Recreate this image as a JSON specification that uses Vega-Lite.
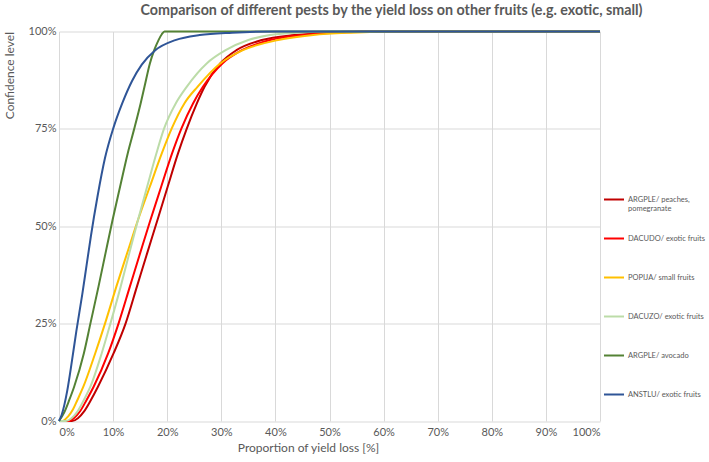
{
  "$schema": "https://vega.github.io/schema/vega-lite/v6.json",
  "autosize": {"type": "none"},
  "width": 541,
  "height": 389.5,
  "padding": {"left": 59, "top": 31.5, "right": 109, "bottom": 41},
  "title": {
    "text": "Comparison of different pests by the yield loss on other fruits (e.g. exotic, small)",
    "font": "Lato",
    "fontSize": 14.3,
    "fontWeight": "bold",
    "color": "#595959",
    "anchor": "middle",
    "frame": "group",
    "dx": 62,
    "offset": 7.5
  },
  "config": {
    "view": {"stroke": null},
    "axis": {
      "grid": true,
      "gridColor": "#d9d9d9",
      "gridWidth": 1,
      "domain": false,
      "ticks": false,
      "labelFont": "Lato",
      "labelFontSize": 11,
      "labelColor": "#595959",
      "titleFont": "Lato",
      "titleFontSize": 12,
      "titleFontWeight": "normal",
      "titleColor": "#595959"
    }
  },
  "data": {
    "values": [
      {"series": "ARGPLE/ peaches, pomegranate", "x": 0, "y": 0},
      {"series": "ARGPLE/ peaches, pomegranate", "x": 2.4, "y": 0},
      {"series": "ARGPLE/ peaches, pomegranate", "x": 3.5, "y": 0.7},
      {"series": "ARGPLE/ peaches, pomegranate", "x": 4.6, "y": 2.4},
      {"series": "ARGPLE/ peaches, pomegranate", "x": 5.9, "y": 5.4},
      {"series": "ARGPLE/ peaches, pomegranate", "x": 7.2, "y": 8.8},
      {"series": "ARGPLE/ peaches, pomegranate", "x": 10.1, "y": 17.4},
      {"series": "ARGPLE/ peaches, pomegranate", "x": 12.3, "y": 25},
      {"series": "ARGPLE/ peaches, pomegranate", "x": 14.4, "y": 34.5},
      {"series": "ARGPLE/ peaches, pomegranate", "x": 16.3, "y": 43.1},
      {"series": "ARGPLE/ peaches, pomegranate", "x": 18.2, "y": 51.6},
      {"series": "ARGPLE/ peaches, pomegranate", "x": 20.1, "y": 60.2},
      {"series": "ARGPLE/ peaches, pomegranate", "x": 22, "y": 68.7},
      {"series": "ARGPLE/ peaches, pomegranate", "x": 23.6, "y": 75},
      {"series": "ARGPLE/ peaches, pomegranate", "x": 25.5, "y": 81.6},
      {"series": "ARGPLE/ peaches, pomegranate", "x": 26.9, "y": 85.8},
      {"series": "ARGPLE/ peaches, pomegranate", "x": 29.8, "y": 91.8},
      {"series": "ARGPLE/ peaches, pomegranate", "x": 32.8, "y": 95.2},
      {"series": "ARGPLE/ peaches, pomegranate", "x": 37.5, "y": 97.8},
      {"series": "ARGPLE/ peaches, pomegranate", "x": 43.5, "y": 99.1},
      {"series": "ARGPLE/ peaches, pomegranate", "x": 49, "y": 99.7},
      {"series": "ARGPLE/ peaches, pomegranate", "x": 56, "y": 100},
      {"series": "ARGPLE/ peaches, pomegranate", "x": 100, "y": 100},

      {"series": "DACUDO/ exotic fruits", "x": 0, "y": 0},
      {"series": "DACUDO/ exotic fruits", "x": 1.7, "y": 0},
      {"series": "DACUDO/ exotic fruits", "x": 2.8, "y": 0.8},
      {"series": "DACUDO/ exotic fruits", "x": 3.9, "y": 2.5},
      {"series": "DACUDO/ exotic fruits", "x": 5.1, "y": 5.4},
      {"series": "DACUDO/ exotic fruits", "x": 6.4, "y": 8.8},
      {"series": "DACUDO/ exotic fruits", "x": 9.1, "y": 17.4},
      {"series": "DACUDO/ exotic fruits", "x": 11, "y": 25},
      {"series": "DACUDO/ exotic fruits", "x": 13.1, "y": 34.5},
      {"series": "DACUDO/ exotic fruits", "x": 15, "y": 43.1},
      {"series": "DACUDO/ exotic fruits", "x": 16.9, "y": 51.6},
      {"series": "DACUDO/ exotic fruits", "x": 18.9, "y": 60.2},
      {"series": "DACUDO/ exotic fruits", "x": 20.9, "y": 68.7},
      {"series": "DACUDO/ exotic fruits", "x": 22.6, "y": 75},
      {"series": "DACUDO/ exotic fruits", "x": 24.8, "y": 81.6},
      {"series": "DACUDO/ exotic fruits", "x": 26.6, "y": 85.8},
      {"series": "DACUDO/ exotic fruits", "x": 30.2, "y": 91.8},
      {"series": "DACUDO/ exotic fruits", "x": 33.8, "y": 95.2},
      {"series": "DACUDO/ exotic fruits", "x": 39, "y": 97.8},
      {"series": "DACUDO/ exotic fruits", "x": 45, "y": 99.1},
      {"series": "DACUDO/ exotic fruits", "x": 51, "y": 99.7},
      {"series": "DACUDO/ exotic fruits", "x": 60, "y": 100},
      {"series": "DACUDO/ exotic fruits", "x": 100, "y": 100},

      {"series": "POPIJA/ small fruits", "x": 0, "y": 0},
      {"series": "POPIJA/ small fruits", "x": 0.6, "y": 0},
      {"series": "POPIJA/ small fruits", "x": 1.7, "y": 1.2},
      {"series": "POPIJA/ small fruits", "x": 2.6, "y": 3},
      {"series": "POPIJA/ small fruits", "x": 3.4, "y": 5.4},
      {"series": "POPIJA/ small fruits", "x": 4.5, "y": 8.8},
      {"series": "POPIJA/ small fruits", "x": 6.7, "y": 17.4},
      {"series": "POPIJA/ small fruits", "x": 8.5, "y": 25},
      {"series": "POPIJA/ small fruits", "x": 10.6, "y": 34.5},
      {"series": "POPIJA/ small fruits", "x": 12.6, "y": 43.1},
      {"series": "POPIJA/ small fruits", "x": 14.6, "y": 51.6},
      {"series": "POPIJA/ small fruits", "x": 16.8, "y": 60.2},
      {"series": "POPIJA/ small fruits", "x": 19, "y": 68.7},
      {"series": "POPIJA/ small fruits", "x": 20.8, "y": 75},
      {"series": "POPIJA/ small fruits", "x": 23.2, "y": 81.6},
      {"series": "POPIJA/ small fruits", "x": 25.6, "y": 85.8},
      {"series": "POPIJA/ small fruits", "x": 29.8, "y": 91.8},
      {"series": "POPIJA/ small fruits", "x": 34, "y": 95.2},
      {"series": "POPIJA/ small fruits", "x": 40.5, "y": 97.8},
      {"series": "POPIJA/ small fruits", "x": 47, "y": 99.1},
      {"series": "POPIJA/ small fruits", "x": 54, "y": 99.7},
      {"series": "POPIJA/ small fruits", "x": 63, "y": 100},
      {"series": "POPIJA/ small fruits", "x": 100, "y": 100},

      {"series": "DACUZO/ exotic fruits", "x": 0, "y": 0},
      {"series": "DACUZO/ exotic fruits", "x": 1.3, "y": 0},
      {"series": "DACUZO/ exotic fruits", "x": 2.3, "y": 0.7},
      {"series": "DACUZO/ exotic fruits", "x": 3.3, "y": 2.2},
      {"series": "DACUZO/ exotic fruits", "x": 4.6, "y": 5.4},
      {"series": "DACUZO/ exotic fruits", "x": 5.8, "y": 8.8},
      {"series": "DACUZO/ exotic fruits", "x": 7.9, "y": 17.4},
      {"series": "DACUZO/ exotic fruits", "x": 9.5, "y": 25},
      {"series": "DACUZO/ exotic fruits", "x": 11.4, "y": 34.5},
      {"series": "DACUZO/ exotic fruits", "x": 13, "y": 43.1},
      {"series": "DACUZO/ exotic fruits", "x": 14.6, "y": 51.6},
      {"series": "DACUZO/ exotic fruits", "x": 16.3, "y": 60.2},
      {"series": "DACUZO/ exotic fruits", "x": 18, "y": 68.7},
      {"series": "DACUZO/ exotic fruits", "x": 19.4, "y": 75},
      {"series": "DACUZO/ exotic fruits", "x": 21.6, "y": 81.6},
      {"series": "DACUZO/ exotic fruits", "x": 23.6, "y": 85.8},
      {"series": "DACUZO/ exotic fruits", "x": 27.3, "y": 91.8},
      {"series": "DACUZO/ exotic fruits", "x": 30.8, "y": 95.2},
      {"series": "DACUZO/ exotic fruits", "x": 35, "y": 97.8},
      {"series": "DACUZO/ exotic fruits", "x": 39, "y": 99.1},
      {"series": "DACUZO/ exotic fruits", "x": 44, "y": 99.7},
      {"series": "DACUZO/ exotic fruits", "x": 50, "y": 100},
      {"series": "DACUZO/ exotic fruits", "x": 100, "y": 100},

      {"series": "ARGPLE/ avocado", "x": 0, "y": 0},
      {"series": "ARGPLE/ avocado", "x": 1, "y": 2.3},
      {"series": "ARGPLE/ avocado", "x": 1.9, "y": 5.4},
      {"series": "ARGPLE/ avocado", "x": 2.8, "y": 8.8},
      {"series": "ARGPLE/ avocado", "x": 4.6, "y": 17.4},
      {"series": "ARGPLE/ avocado", "x": 5.8, "y": 25},
      {"series": "ARGPLE/ avocado", "x": 7.3, "y": 34.5},
      {"series": "ARGPLE/ avocado", "x": 8.6, "y": 43.1},
      {"series": "ARGPLE/ avocado", "x": 9.9, "y": 51.6},
      {"series": "ARGPLE/ avocado", "x": 11.3, "y": 60.2},
      {"series": "ARGPLE/ avocado", "x": 12.7, "y": 68.7},
      {"series": "ARGPLE/ avocado", "x": 13.9, "y": 75},
      {"series": "ARGPLE/ avocado", "x": 15.1, "y": 81.6},
      {"series": "ARGPLE/ avocado", "x": 15.8, "y": 85.8},
      {"series": "ARGPLE/ avocado", "x": 16.8, "y": 91.8},
      {"series": "ARGPLE/ avocado", "x": 17.6, "y": 95.2},
      {"series": "ARGPLE/ avocado", "x": 18.4, "y": 97.8},
      {"series": "ARGPLE/ avocado", "x": 19, "y": 99.3},
      {"series": "ARGPLE/ avocado", "x": 19.5, "y": 100},
      {"series": "ARGPLE/ avocado", "x": 100, "y": 100},

      {"series": "ANSTLU/ exotic fruits", "x": 0, "y": 0},
      {"series": "ANSTLU/ exotic fruits", "x": 0.5, "y": 1.6},
      {"series": "ANSTLU/ exotic fruits", "x": 1, "y": 4.2},
      {"series": "ANSTLU/ exotic fruits", "x": 1.5, "y": 7.6},
      {"series": "ANSTLU/ exotic fruits", "x": 2.4, "y": 15.5},
      {"series": "ANSTLU/ exotic fruits", "x": 3.2, "y": 23},
      {"series": "ANSTLU/ exotic fruits", "x": 4.3, "y": 32.5},
      {"series": "ANSTLU/ exotic fruits", "x": 5.1, "y": 40},
      {"series": "ANSTLU/ exotic fruits", "x": 5.9, "y": 47.5},
      {"series": "ANSTLU/ exotic fruits", "x": 7.1, "y": 57.5},
      {"series": "ANSTLU/ exotic fruits", "x": 8.5, "y": 67.5},
      {"series": "ANSTLU/ exotic fruits", "x": 10, "y": 75},
      {"series": "ANSTLU/ exotic fruits", "x": 11.7, "y": 81.6},
      {"series": "ANSTLU/ exotic fruits", "x": 13.5, "y": 87.3},
      {"series": "ANSTLU/ exotic fruits", "x": 15.3, "y": 91.5},
      {"series": "ANSTLU/ exotic fruits", "x": 17.8, "y": 95.2},
      {"series": "ANSTLU/ exotic fruits", "x": 21.5, "y": 97.8},
      {"series": "ANSTLU/ exotic fruits", "x": 26, "y": 99.1},
      {"series": "ANSTLU/ exotic fruits", "x": 32, "y": 99.7},
      {"series": "ANSTLU/ exotic fruits", "x": 40, "y": 100},
      {"series": "ANSTLU/ exotic fruits", "x": 100, "y": 100}
    ]
  },
  "mark": {"type": "line", "interpolate": "monotone", "strokeWidth": 2},
  "encoding": {
    "x": {
      "field": "x",
      "type": "quantitative",
      "scale": {"domain": [0, 100], "nice": false},
      "axis": {
        "values": [0, 10, 20, 30, 40, 50, 60, 70, 80, 90, 100],
        "labelExpr": "datum.value + '%'",
        "labelPadding": 5,
        "title": "Proportion of yield loss [%]",
        "titleX": 249,
        "titlePadding": 5
      }
    },
    "y": {
      "field": "y",
      "type": "quantitative",
      "scale": {"domain": [0, 100], "nice": false},
      "axis": {
        "values": [0, 25, 50, 75, 100],
        "labelExpr": "datum.value + '%'",
        "labelPadding": 3,
        "title": "Confidence level",
        "titleAnchor": "end",
        "titlePadding": 12
      }
    },
    "color": {
      "field": "series",
      "type": "nominal",
      "sort": null,
      "scale": {
        "domain": ["ARGPLE/ peaches, pomegranate", "DACUDO/ exotic fruits", "POPIJA/ small fruits", "DACUZO/ exotic fruits", "ARGPLE/ avocado", "ANSTLU/ exotic fruits"],
        "range": ["#C00000", "#FF0000", "#FFC000", "#BCDCA8", "#548235", "#2F5597"]
      },
      "legend": {
        "title": null,
        "orient": "none",
        "legendX": 544,
        "legendY": 157,
        "padding": 0,
        "symbolType": "stroke",
        "symbolSize": 400,
        "symbolStrokeWidth": 2,
        "labelFont": "Lato",
        "labelFontSize": 7.5,
        "labelColor": "#595959",
        "labelLimit": 200,
        "labelOffset": 3,
        "rowPadding": 15,
        "labelExpr": "datum.label == 'ARGPLE/ peaches, pomegranate' ? ['ARGPLE/ peaches,', 'pomegranate'] : [datum.label, '']"
      }
    }
  }
}
